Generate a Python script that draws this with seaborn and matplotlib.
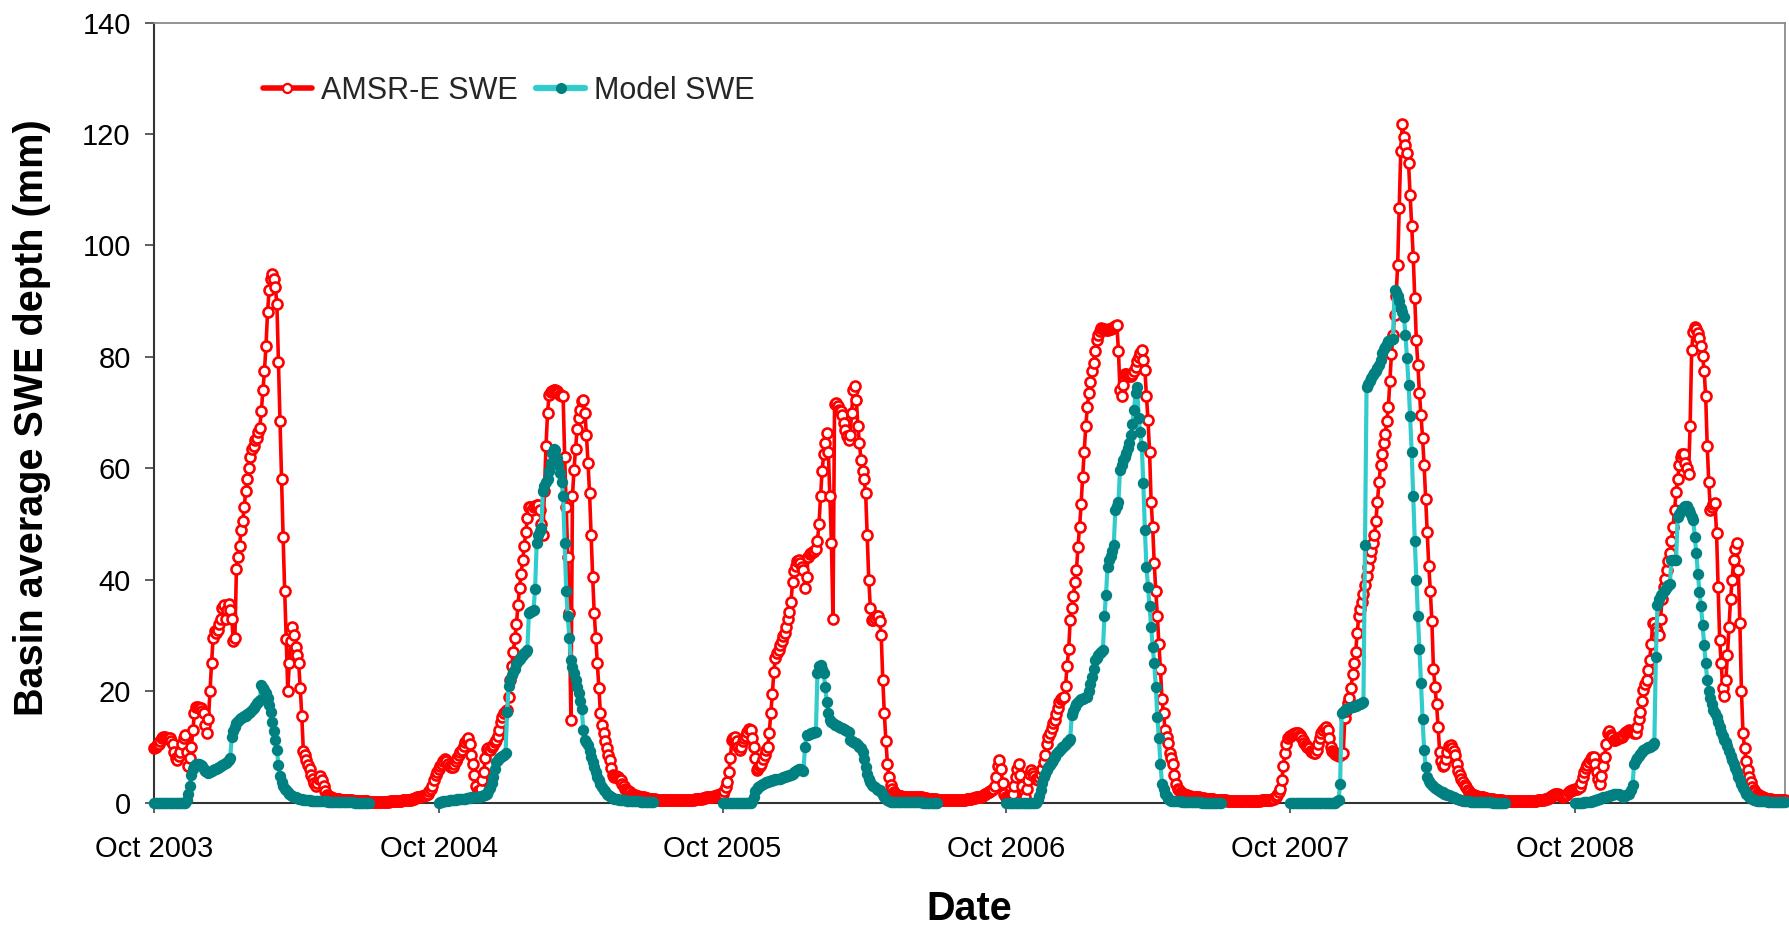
import pandas as pd
import matplotlib
matplotlib.use("Agg")
import matplotlib.pyplot as plt
from matplotlib.lines import Line2D
import matplotlib.dates as mdates
import seaborn as sns

# Each snow season starts on 1 October; values are sampled every 2 days (mm)
SEASONS = [2003, 2004, 2005, 2006, 2007, 2008]
STEP_DAYS = 2
X_END = "2009-06-28"

amsr_swe_2003 = [
    9.7, 10, 10.3, 10.5, 11, 11.5, 11.8, 11.8, 11.6, 11.5,
    11.5, 11, 10.5, 9, 8, 7.6, 8.3, 9, 10.5, 11.5,
    12.1, 9, 6.5, 8, 10, 13, 16, 17.2, 17.2, 17,
    17, 16.5, 16, 14, 12.5, 15, 20, 25, 29.5, 30.7,
    30.5, 31, 32, 33, 35, 35.5, 33, 34.5, 35.7, 34.5,
    33, 29, 29.5, 42, 44, 46, 49, 50.5, 53, 56,
    58, 60, 62, 63.4, 64, 65, 65.5, 66.5, 67.2, 70.3,
    74, 77.5, 82, 88, 92, 94, 94.8, 94, 92.5, 89.5,
    79, 68.5, 58, 47.7, 38, 29.4, 20, 25, 29, 31.5,
    30, 28, 26.5, 25, 20.6, 15.6, 9.3, 8.5, 7.6, 6.7,
    6, 5, 4.2, 3.5, 3, 3.5, 4.2, 4.8, 4, 3,
    2, 1.4, 1.2, 1, 0.9, 0.8,
    0.7, 0.7, 0.6, 0.6, 0.5, 0.5, 0.5, 0.5, 0.4, 0.4,
    0.4, 0.4, 0.3, 0.3, 0.3, 0.3, 0.2, 0.2, 0.2, 0.2, 0.2, 0.2,
    0.1, 0.1, 0.1, 0.1, 0.1, 0.1, 0.1, 0.1, 0.1, 0.1,
    0.1, 0.1, 0.1, 0.1, 0.2, 0.2, 0.2, 0.2, 0.3, 0.3, 0.3, 0.3,
    0.4, 0.4, 0.4, 0.5, 0.5,
    0.5, 0.6, 0.7, 0.8, 0.9, 1, 1, 1.1, 1.2, 1.3, 1.3, 1.5,
    2, 2.5, 3, 4, 5, 5.5,
]
amsr_swe_2004 = [
    6, 6.5, 7, 7.5, 7.8, 7.5, 7, 6.5, 6.4, 6.4,
    7, 7.5, 8, 8.5, 9, 9.5, 10.2, 10.8, 11.3, 11.5,
    10.5, 8.5, 7, 5, 3, 2, 1.8, 2.5, 4, 5.5,
    8, 9.6, 9.8, 9.5, 10, 10.4, 10.8, 11.2, 12, 13,
    14.5, 15.4, 16, 16.5, 16.6, 19, 22, 24.5, 27, 29.5,
    32, 35.5, 38.5, 41, 43.5, 46, 48.5, 51, 53, 53,
    52.5, 53, 53.2, 53.4, 53.4, 52.5, 50, 48, 56, 64,
    70, 73.2, 73.6, 73.8, 74, 74, 73.8, 73.5, 73.2, 73,
    72.9, 62, 53, 44, 34, 14.8, 55, 59.7, 63.5, 67,
    69, 70.5, 72, 72.3, 70, 66, 61, 55.5, 48, 40.5,
    34, 29.5, 25, 20.5, 16, 14, 12.4, 11, 9.7, 8.6,
    7.6, 6.2, 5, 4.6, 4.7, 4.5, 4.2, 4, 3.4, 2.9,
    2.5, 2.2, 2, 1.8, 1.6, 1.4, 1.3, 1.2, 1.1, 1,
    1,
    0.9, 0.9, 0.8, 0.8, 0.7, 0.7, 0.6, 0.6, 0.6, 0.5,
    0.5, 0.5, 0.5, 0.4, 0.4, 0.4, 0.4, 0.4, 0.4, 0.4,
    0.4, 0.4, 0.4, 0.4, 0.4, 0.4, 0.4, 0.4, 0.4, 0.4, 0.4,
    0.5, 0.5, 0.5, 0.6,
    0.6, 0.6, 0.7, 0.7, 0.8, 0.8, 0.9, 0.9, 0.9, 1,
    1, 1.1, 1.2, 1.3, 1.4, 1.5, 1.6,
]
amsr_swe_2005 = [
    1.6, 2, 2.8, 3.6, 5.5, 8, 11.2, 11.5, 11.8, 11,
    10, 9.4, 10, 11, 11.6, 12, 12.6, 13.2, 13, 11.5,
    10, 8, 5.8, 6.2, 6.6, 7, 7.8, 8.5, 9.4, 10,
    12.5, 16, 19.5, 23.5, 26, 26.8, 27.4, 28.2, 29, 29.8,
    30.4, 31.5, 33, 34.2, 36, 39.5, 41.5, 42.5, 43.3, 43.5,
    43, 42.3, 41.7, 38.5, 40.5, 44, 44.6, 44.8, 45, 45.2,
    45.5, 47, 50, 55, 59.5, 62.5, 64.5, 66.3, 63, 55,
    46.5, 33, 71.5, 71.7, 71.2, 70.5, 70.2, 69.5, 68.2, 66.8,
    65.7, 65, 66, 70, 74, 74.8, 72.3, 67.5, 64.5, 61.5,
    59.5, 58, 55.5, 48, 40, 35, 32.8, 32.8, 33.2, 33.4,
    33.4, 32.5, 30, 22, 16, 11, 7, 4.5, 3.2, 2.5,
    1.9, 1.5, 1.3,
    1.2, 1.1, 1.1, 1, 1, 1, 0.9, 0.9, 0.9, 0.9,
    0.9, 0.9, 1, 1, 0.9, 0.9, 0.8,
    0.8, 0.8, 0.7, 0.7, 0.7, 0.6, 0.6, 0.6, 0.5, 0.5,
    0.5, 0.5, 0.5, 0.4, 0.4, 0.4, 0.4, 0.4, 0.4, 0.4, 0.4,
    0.4, 0.4, 0.4, 0.5, 0.5, 0.5, 0.6, 0.6, 0.7, 0.7,
    0.8, 0.8, 0.9, 0.9, 1, 1, 1.1, 1.3, 1.5, 1.7,
    1.9, 2, 2.2, 2.5, 3, 4.5, 6.5, 7.6, 6, 3.5,
    1.5, 1,
]
amsr_swe_2006 = [
    1, 0.8, 0.6, 0.5, 1.5, 3, 4.5, 6, 7, 5,
    3, 1.5, 1, 2.5, 4, 5.2, 5.8, 5.3, 4.7, 4.3,
    4, 4.5, 5.2, 6, 7.2, 8.5, 10.5, 11.8, 12.5, 13.3,
    14.2, 14.8, 15.8, 17, 18, 18.6, 18.8, 19, 21, 24.5,
    27.5, 32.8, 35, 37, 39.5, 41.7, 45.9, 49.5, 53.5, 58.5,
    63, 67.5, 71, 73.5, 75.5, 77.5, 78.8, 81, 83, 84,
    84.7, 85.1, 85, 84.9, 84.8, 84.8, 84.9, 85, 85.2, 85.4,
    85.6, 85.7, 81, 74, 72.9, 75, 77, 77, 76.8, 76.5,
    76.6, 77, 77.5, 78.2, 79.2, 80, 80.7, 81.2, 79.5, 77.7,
    72.9, 68.7, 63, 54, 49.5, 43, 38, 33.5, 28.5, 24,
    18.5, 16, 13, 11.8, 10.6, 8.8, 8, 7, 5, 3.3,
    2.5, 2.2, 1.9, 1.6, 1.5, 1.4, 1.3, 1.2, 1.1, 1,
    1,
    1, 0.9, 0.9, 0.9, 0.8, 0.8, 0.8, 0.7, 0.7, 0.7,
    0.6, 0.6, 0.6, 0.5, 0.5, 0.5,
    0.4, 0.4, 0.4, 0.4, 0.4, 0.3, 0.3, 0.3, 0.3, 0.3,
    0.3, 0.3, 0.3, 0.2, 0.2, 0.2, 0.2, 0.2, 0.2, 0.2,
    0.2, 0.2, 0.2, 0.3, 0.3, 0.3, 0.3, 0.4, 0.4, 0.4,
    0.4, 0.5, 0.5, 0.5, 0.6, 0.7, 0.9, 1.3, 1.9, 2.5,
    4, 6.5, 8.8, 10.5, 11.5, 12,
]
amsr_swe_2007 = [
    12, 12.2, 12.3, 12.4, 12.4, 12.4, 12.2, 11.8, 11.2, 10.7,
    10.3, 10, 9.7, 9.3, 9, 8.9, 8.8, 9.5, 10.5, 11.5,
    12.4, 13, 13.4, 13.6, 13, 11.5, 10, 9.3, 9, 8.7,
    8.5, 8.4, 8.5, 8.7, 8.8, 15.2, 16.5, 17.8, 18.8, 20.5,
    23, 25, 27, 30.5, 33.5, 34.8, 35.9, 37.5, 39, 40.6,
    42.2, 43.8, 45.2, 46.6, 48, 50.5, 54, 57.5, 60.5, 62.5,
    64.5, 66.1, 68.5, 70.9, 75.7, 80.5, 84, 87.5, 91, 96.5,
    106.7, 117, 121.8, 119.5, 118, 116.5, 114.7, 109, 103.5, 98,
    90.5, 83, 78.5, 73.5, 69.5, 65.5, 60.5, 54.5, 48.6, 42.5,
    38, 32.5, 24, 20.8, 17.6, 13.6, 9, 7.5, 6.6, 6.8,
    7.8, 9, 10.2, 10.3, 9.8, 9.2, 8.5, 7, 5.6, 5,
    4.3, 3.7, 3.2, 2.7, 2.2, 1.8, 1.6, 1.5, 1.3, 1.2,
    1.1, 1, 1, 0.9, 0.9,
    0.8, 0.8, 0.7, 0.7, 0.6, 0.6, 0.5, 0.5, 0.5, 0.4,
    0.4, 0.4, 0.3, 0.3, 0.3, 0.3, 0.2, 0.2, 0.2, 0.2,
    0.2, 0.2, 0.2, 0.2, 0.2, 0.2,
    0.2, 0.2, 0.2, 0.2, 0.3, 0.3, 0.3, 0.3, 0.4, 0.4,
    0.4, 0.5, 0.5, 0.6, 0.7, 0.8, 0.9, 1.1, 1.3, 1.5,
    1.6, 1.5, 1.3, 1.1, 1, 1.1, 1.3, 1.6, 1.9, 2.1,
    2.2, 2.3,
]
amsr_swe_2008 = [
    2.4, 2.5, 2.6, 2.8, 3.5, 4.5, 5.5, 6.2, 6.8, 7.3,
    7.8, 8.1, 8.2, 7, 5.5, 4.2, 3.4, 4.8, 6.5, 8.2,
    10.5, 12.5, 12.8, 12.2, 11.7, 11.3, 11.2, 11.4, 11.6, 11.7,
    11.8, 12.1, 12.4, 12.7, 12.9, 13, 12.9, 12.7, 12.5, 12.4,
    13.5, 15, 16.3, 18.2, 20.2, 21.2, 22, 23.8, 25.6, 28.5,
    32.3, 32.2, 31.4, 30.7, 30, 33, 36.5, 38.6, 40.2, 41.8,
    43.3, 44.7, 47, 49.5, 52.5, 55.8, 58, 60.5, 62, 62.5,
    62.5, 61, 60, 59, 67.5, 81.2, 84.5, 85.4, 85, 84.2,
    83.3, 82, 80.2, 77.5, 73, 64, 57.5, 52.5, 53, 53.5,
    53.7, 48.3, 38.7, 29.2, 25, 20.5, 19.2, 22, 26.5, 31.5,
    36.5, 40, 43.5, 45.5, 46.5, 41.7, 32.2, 20, 12.4, 9.8,
    7.4, 5.8, 4.5, 3.6, 2.8, 2.2, 1.8, 1.5, 1.3, 1.1,
    1, 0.9, 0.8, 0.7, 0.7, 0.6, 0.6, 0.5, 0.5, 0.5,
    0.4, 0.4, 0.4, 0.4, 0.4, 0.4,
]

# Model output runs from 1 October to early July of each season
model_swe_2003 = [
    0, 0, 0, 0, 0, 0, 0, 0, 0, 0, 0, 0, 0, 0, 0, 0, 0, 0, 0, 0, 0,
    0.5, 1.5, 3, 5, 6, 6.5, 7, 7, 7, 6.8,
    6.5, 6, 5.7, 5.5, 5.3, 5.5, 5.7, 5.8, 6, 6.1,
    6.2, 6.4, 6.5, 6.7, 7, 7.1, 7.3, 7.6, 8, 11.8,
    12.8, 13.6, 14.2, 14.6, 14.9, 15.1, 15.3, 15.5, 15.6, 15.8,
    16, 16.2, 16.6, 17, 17.4, 17.8, 18.1, 18.4, 21.1, 20.6,
    20.2, 19.6, 18.8, 17.5, 16.2, 14.5, 12.8, 11.2, 9.5, 6.7,
    4.8, 3.6, 2.9, 2.5, 2.2, 1.9, 1.6, 1.4, 1.2, 1,
    0.9, 0.8, 0.7, 0.6, 0.6, 0.5, 0.5, 0.4,
    0.4, 0.4, 0.35, 0.35, 0.3, 0.3, 0.3, 0.25, 0.25, 0.2,
    0.2, 0.2, 0.2, 0.15, 0.15, 0.15, 0.1, 0.1, 0.1, 0.1,
    0.1, 0.1, 0.1, 0.1, 0.05, 0.05, 0.05, 0.05, 0.05, 0.05,
    0, 0, 0, 0, 0, 0, 0, 0, 0, 0,
]
model_swe_2004 = [
    0,
    0.1, 0.1, 0.2, 0.2, 0.3, 0.3, 0.4, 0.4, 0.5, 0.5,
    0.5, 0.6, 0.6, 0.6, 0.7, 0.7, 0.7, 0.8, 0.8, 0.8,
    0.9, 0.9, 0.9, 1, 1,
    1, 1.1, 1.2, 1.3, 1.4, 1.6, 2, 2.6, 3.5, 4.5,
    6, 7.2, 7.7, 8, 8.2, 8.4, 8.6, 8.8, 16.3, 21,
    22, 22.8, 23.5, 24, 24.8, 25.4, 25.8, 26.1, 26.4, 26.8,
    27.1, 27.4, 34, 34.2, 34.4, 34.6, 38.4, 46.5, 48, 48.8,
    49.3, 56, 56.8, 57.5, 58, 59.5, 61, 62.7, 63.4, 63.2,
    61.8, 60.5, 59.2, 57.5, 55, 46.5, 38, 33.4, 29.5, 25.6,
    24.3, 23.2, 22, 20.8, 19.6, 18.2, 16.8, 13, 11.2, 10.8,
    10.3, 9.2, 8.2, 7.3, 6.3, 5.4, 4.6, 4, 3.3, 2.7,
    2.3, 2, 1.6, 1.3, 1.1, 0.9, 0.75,
    0.7, 0.6, 0.6, 0.5, 0.5, 0.45, 0.4, 0.4, 0.35, 0.3,
    0.3, 0.25, 0.25, 0.2, 0.2, 0.2, 0.2, 0.15, 0.15, 0.15,
    0.1, 0.1, 0.1, 0.1, 0.1, 0.1,
]
model_swe_2005 = [
    0, 0, 0, 0, 0, 0, 0, 0, 0, 0, 0, 0, 0, 0, 0, 0, 0, 0, 0,
    0.3, 1, 2, 2.5, 2.8, 3, 3.2, 3.4, 3.5, 3.6,
    3.7, 3.8, 3.9, 4, 4.1, 4.2, 4.2, 4.3, 4.3, 4.4,
    4.5, 4.6, 4.7, 4.8, 4.9, 5, 5.2, 5.4, 5.6, 5.8,
    6, 6.1, 5.9, 5.6, 10, 12.1, 12.2, 12.3, 12.4, 12.5,
    12.6, 12.7, 23.2, 24.5, 24.6, 24, 23.2, 20.8, 18, 16,
    14.8, 14.5, 14.2, 14, 13.9, 13.7, 13.5, 13.4, 13.3, 13.2,
    13, 12.8, 12.7, 11.2, 11, 10.8, 10.7, 10.6, 10.3, 10,
    9.8, 9, 7.8, 6.4, 5.2, 4.2, 3.6, 3.2, 2.9, 2.8,
    2.5, 2.3, 2.2, 1.8, 1.4, 0.9, 0.6, 0.4, 0.2, 0.1,
    0.1, 0.1, 0.1, 0.1, 0.1, 0.1, 0.1, 0.1, 0.1, 0.1,
    0.05, 0.05, 0.05, 0.05, 0.05, 0.05, 0.05, 0.05, 0.05, 0.05,
    0, 0, 0, 0, 0, 0, 0, 0, 0, 0,
]
model_swe_2006 = [
    0, 0, 0, 0, 0, 0, 0, 0, 0, 0, 0, 0, 0, 0, 0, 0, 0, 0, 0, 0,
    0.5, 1.2, 2.2, 3.5, 4.5, 5.2, 5.8, 6.4, 6.8, 7.2,
    7.6, 8.2, 8.7, 9.1, 9.3, 9.6, 9.9, 10.2, 10.5, 10.8,
    11.1, 11.4, 15.7, 16.5, 17.2, 17.6, 18, 18.4, 18.5, 18.6,
    18.8, 18.9, 19, 20, 21.2, 22.5, 24, 25.6, 26, 26.4,
    26.8, 27.1, 27.4, 33.4, 37.3, 42.3, 43.5, 44.2, 45.2, 46.3,
    52.5, 53.2, 54, 59.7, 60.6, 61.5, 62.1, 62.7, 63.7, 64.6,
    66, 68, 70.5, 73.5, 74.5, 69, 66.5, 63.9, 57.3, 48.9,
    42.3, 38.7, 35.2, 31.5, 28, 25, 20.8, 15.4, 11.5, 7,
    3.4, 2.4, 1.6, 1.1, 0.7, 0.4,
    0.3, 0.3, 0.25, 0.25, 0.2, 0.2, 0.2, 0.15, 0.15, 0.15,
    0.1, 0.1, 0.1, 0.1, 0.1, 0.05, 0.05, 0.05, 0.05, 0.05,
    0, 0, 0, 0, 0, 0, 0, 0, 0, 0, 0, 0, 0,
]
model_swe_2007 = [
    0, 0, 0, 0, 0, 0, 0, 0, 0, 0, 0, 0, 0, 0, 0,
    0, 0, 0, 0, 0, 0, 0, 0, 0, 0, 0, 0, 0, 0, 0,
    0.2, 0.5, 3.3, 16, 16.3, 16.6, 16.8, 16.9, 17, 17.1,
    17.2, 17.3, 17.4, 17.5, 17.6, 17.7, 17.8, 18, 46.2, 74.6,
    75.2, 75.7, 76.2, 76.7, 77.1, 77.5, 78, 78.6, 79.4, 80.6,
    81.4, 81.8, 82.3, 82.8, 83, 83.1, 83.2, 92, 91.6, 91,
    90, 88.8, 88, 87.2, 84, 79.7, 75, 69.3, 63, 55,
    47, 40, 33.5, 27.5, 21.5, 15, 9.5, 6.3, 4.6, 3.9,
    3.5, 3.2, 2.9, 2.6, 2.5, 2.3, 2.1, 1.9, 1.8, 1.6,
    1.5, 1.4, 1.3, 1.1, 1, 0.9, 0.8, 0.7, 0.6, 0.5,
    0.4, 0.35, 0.3, 0.25, 0.2,
    0.2, 0.15, 0.15, 0.15, 0.1, 0.1, 0.1, 0.1, 0.1, 0.1,
    0.05, 0.05, 0.05, 0.05, 0.05, 0, 0, 0, 0, 0, 0, 0, 0, 0,
]
model_swe_2008 = [
    0, 0, 0, 0, 0, 0, 0.05, 0.05, 0.1, 0.1,
    0.15, 0.2, 0.3, 0.4, 0.5, 0.6, 0.7, 0.8, 0.9, 0.95,
    1, 1.1, 1.2, 1.3, 1.4, 1.5, 1.6, 1.6, 1.5, 1.3,
    1.1, 1, 1.1, 1.3, 1.5, 1.6, 2.2, 3.2, 7, 7.6,
    8, 8.3, 8.7, 9.1, 9.4, 9.6, 9.8, 9.9, 10, 10.2,
    10.4, 10.6, 26.2, 35.5, 36.6, 37.2, 37.5, 37.9, 38.2, 38.6,
    39, 39.3, 43.5, 43.5, 43.5, 43.6, 51.3, 51.8, 52.3, 52.7,
    53, 53.3, 53.3, 52.5, 51.9, 51.3, 50.7, 47.7, 44.7, 41.1,
    37.8, 35.3, 31.8, 28.3, 25, 22, 20, 18.8, 17.7, 16.6,
    16, 15.4, 14.5, 13.6, 12.7, 12, 11.3, 10.8, 10.2, 9.2,
    8.4, 7.6, 6.9, 6.2, 5.4, 4.6, 4, 3.3, 2.6, 2,
    1.6, 1.3, 1, 0.8, 0.6, 0.5, 0.4, 0.35, 0.3, 0.3,
    0.25, 0.2, 0.2, 0.2, 0.15, 0.15, 0.15, 0.1, 0.1, 0.1,
    0.1, 0.1, 0.1, 0.1, 0.1, 0.1,
]

AMSR_SEASONS = [amsr_swe_2003, amsr_swe_2004, amsr_swe_2005,
                amsr_swe_2006, amsr_swe_2007, amsr_swe_2008]
MODEL_SEASONS = [model_swe_2003, model_swe_2004, model_swe_2005,
                 model_swe_2006, model_swe_2007, model_swe_2008]

SERIES_LABELS = ["AMSR-E SWE", "Model SWE"]
Y_TICKS = [0, 20, 40, 60, 80, 100, 120, 140]
TICK_YEARS = [2003, 2004, 2005, 2006, 2007, 2008]

RED = "#FF0000"
LINE_CYAN = "#33CCCC"
TEAL = "#008080"


def season_frame(start_year, values):
    dates = pd.date_range(f"{start_year}-10-01", periods=len(values),
                          freq=f"{STEP_DAYS}D")
    return pd.DataFrame({"date": dates, "swe": values, "season": start_year})


amsr = pd.concat([season_frame(y, v) for y, v in zip(SEASONS, AMSR_SEASONS)],
                 ignore_index=True)
model = pd.concat([season_frame(y, v) for y, v in zip(SEASONS, MODEL_SEASONS)],
                  ignore_index=True)

sns.set_theme(style="white")
plt.rcParams["font.family"] = ["Liberation Sans", "DejaVu Sans"]

W, H = 1790, 925
fig = plt.figure(figsize=(W / 100, H / 100), dpi=100)
ax_left, ax_right, ax_top, ax_bottom = 154, 1785, 22.5, 802.5
ax = fig.add_axes([ax_left / W, 1 - ax_bottom / H,
                   (ax_right - ax_left) / W, (ax_bottom - ax_top) / H])

red_style = dict(color=RED, linewidth=2.6, marker="o", markersize=7.2,
                 markerfacecolor="white", markeredgecolor=RED,
                 markeredgewidth=1.9)
model_style = dict(color=LINE_CYAN, linewidth=3.0, marker="o", markersize=8.2,
                   markerfacecolor=TEAL, markeredgecolor=TEAL,
                   markeredgewidth=0.0)

sns.lineplot(data=amsr, x="date", y="swe", ax=ax, estimator=None,
             legend=False, clip_on=False, zorder=3, **red_style)
sns.lineplot(data=model, x="date", y="swe", units="season", ax=ax,
             estimator=None, legend=False, clip_on=False, zorder=4,
             **model_style)

ax.set_xlim(pd.Timestamp("2003-10-01"), pd.Timestamp(X_END))
ax.set_ylim(Y_TICKS[0], Y_TICKS[-1])
ax.set_yticks(Y_TICKS)
ax.set_xticks([pd.Timestamp(f"{y}-10-01") for y in TICK_YEARS])
ax.xaxis.set_major_formatter(mdates.DateFormatter("%b %Y"))

for side in ("top", "right"):
    ax.spines[side].set_color("#8a8a8a")
    ax.spines[side].set_linewidth(1.3)
for side in ("left", "bottom"):
    ax.spines[side].set_color("#333333")
    ax.spines[side].set_linewidth(1.5)

ax.tick_params(axis="x", direction="out", length=7.5, width=1.1,
               color="#333333", labelsize=21, pad=16, labelcolor="black",
               bottom=True)
ax.tick_params(axis="y", direction="out", length=6.8, width=1.1,
               color="#333333", labelsize=21, pad=10, labelcolor="black",
               left=True)

ax.set_xlabel("Date", fontsize=28.5, fontweight="bold", color="black")
ax.set_ylabel("Basin average SWE depth (mm)", fontsize=28.5,
              fontweight="bold", color="black")
ax.xaxis.set_label_coords(0.5, -0.137)
ax.xaxis.label.set_va("center")
ax.yaxis.set_label_coords(-0.0748, 0.493)
ax.yaxis.label.set_va("center")

legend_handles = [
    Line2D([], [], color=RED, linewidth=4, marker="o", markersize=6.5,
           markerfacecolor="white", markeredgecolor=RED, markeredgewidth=1.6),
    Line2D([], [], color=LINE_CYAN, linewidth=4.5, marker="o", markersize=8,
           markerfacecolor=TEAL, markeredgecolor=TEAL, markeredgewidth=0),
]
ax.legend(legend_handles, SERIES_LABELS, loc="center left",
          bbox_to_anchor=((263 - ax_left) / (ax_right - ax_left),
                          (ax_bottom - 91) / (ax_bottom - ax_top)),
          ncol=2, frameon=False, fontsize=22, handlelength=1.6,
          handletextpad=0.3, columnspacing=0.6, borderaxespad=0,
          borderpad=0)

fig.savefig("out.png", dpi=100, facecolor="white")
